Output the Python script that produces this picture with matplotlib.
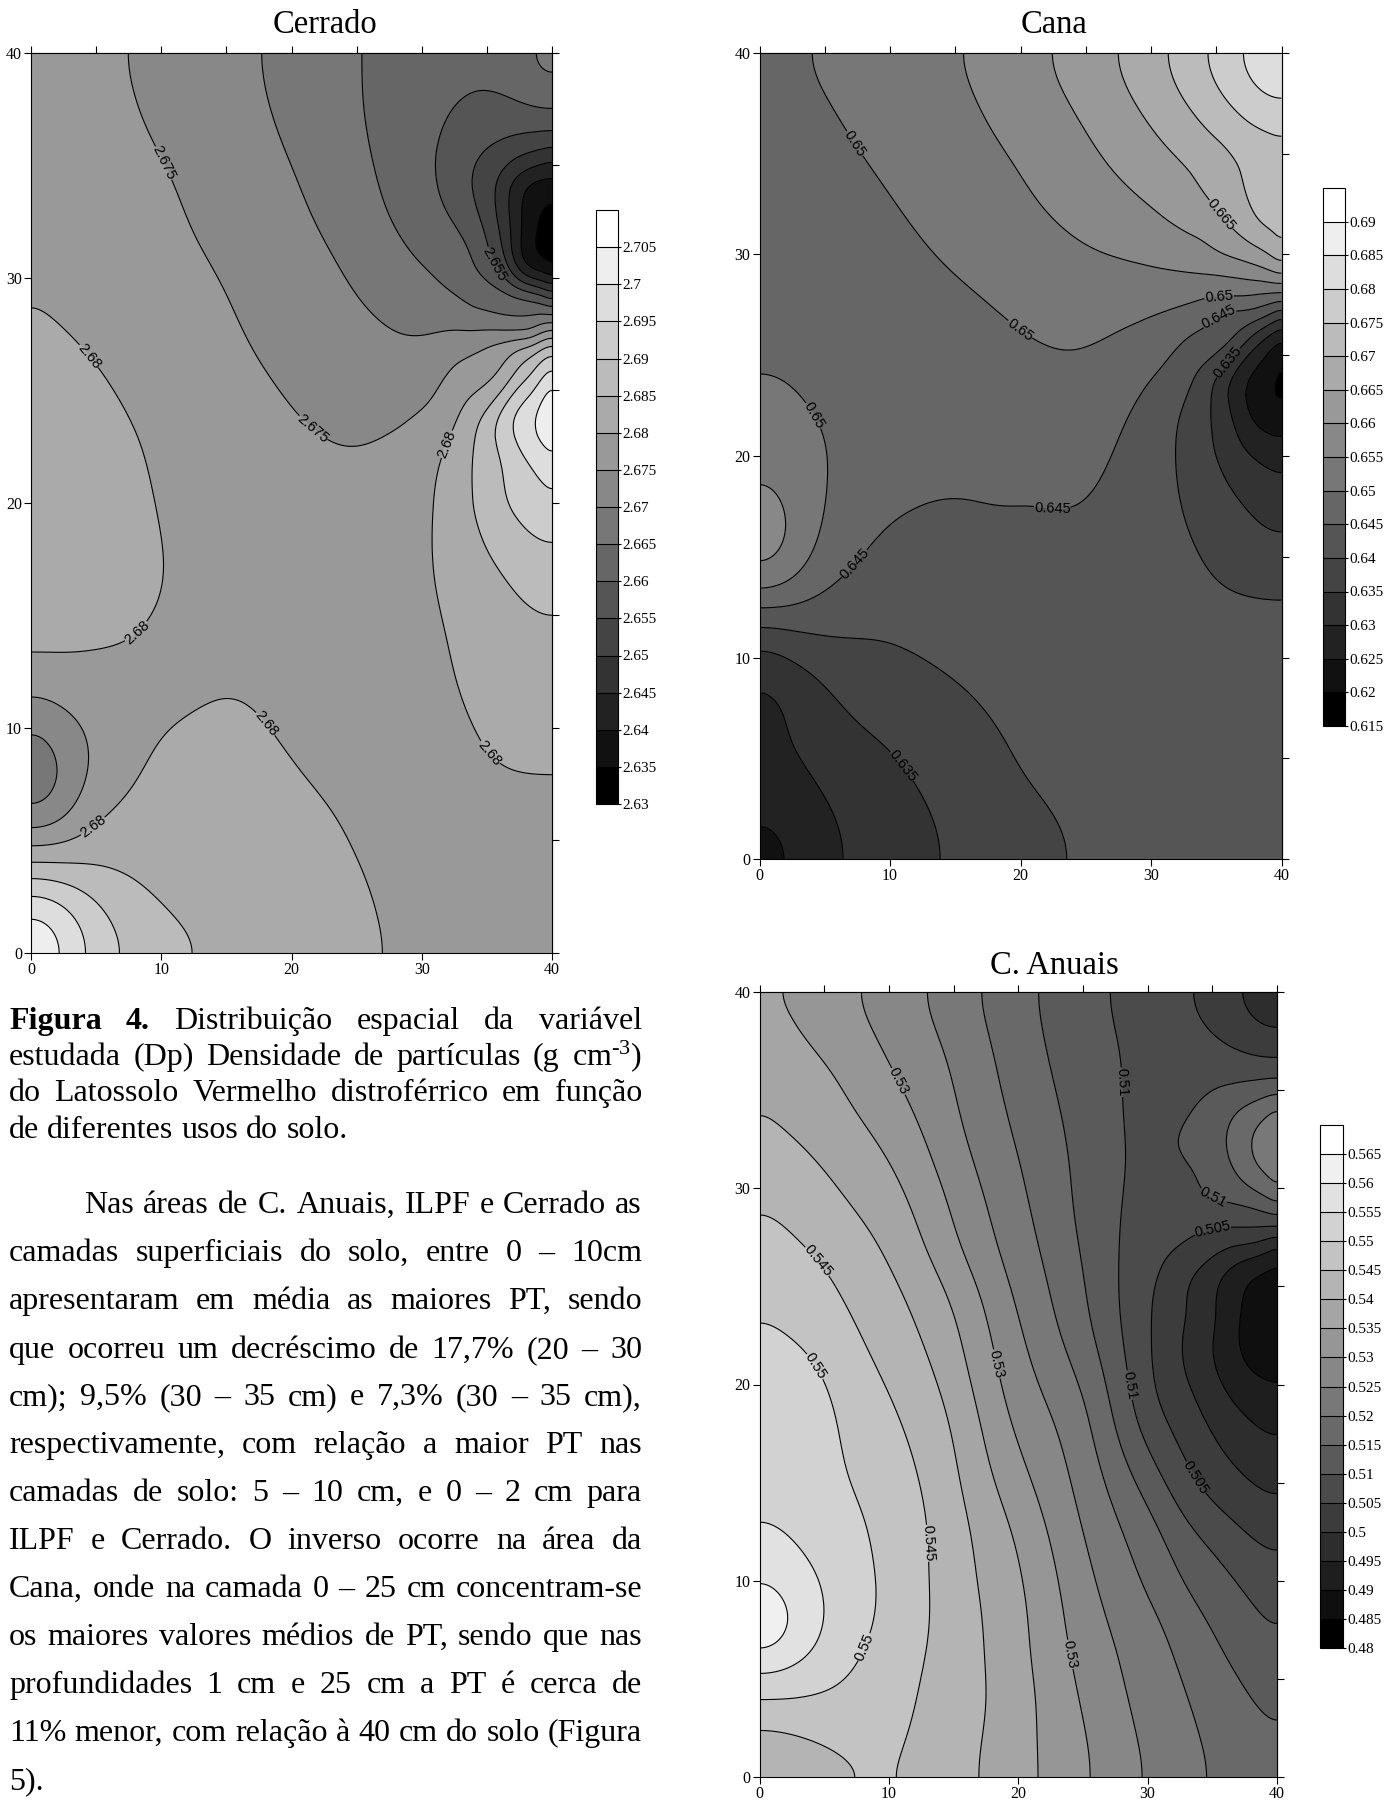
import numpy as np
import matplotlib
matplotlib.use('Agg')
import matplotlib.pyplot as plt
from matplotlib.tri import Triangulation, CubicTriInterpolator

W, H = 1398, 1807
plt.rcParams['font.family'] = 'Liberation Serif'
plt.rcParams['mathtext.default'] = 'regular'
plt.rcParams['mathtext.fontset'] = 'custom'
plt.rcParams['mathtext.rm'] = 'Liberation Serif'

# grid nodes shared by the three maps (cm)
grid_x = [0, 2.5, 5, 10, 15, 20, 25, 30, 33, 36, 38, 40]
grid_y = [0, 2, 4, 6, 8, 10, 12, 14, 17, 20, 22, 24, 26, 27, 28, 29, 30, 32, 34, 36, 38, 40]

# values, in 0.005 steps above the lowest level, one row per grid_y
cerrado_steps = [
    [15.8, 14.2, 12.75, 11.5, 10.85, 10.55, 10.2, 9.85, 9.65, 9.5, 9.4, 9.35],
    [14.2, 13.4, 12.3, 11.0, 10.7, 10.4, 10.2, 9.6, 9.4, 9.3, 9.3, 9.3],
    [11.0, 10.95, 10.85, 10.65, 10.5, 10.45, 10.03, 9.5, 9.4, 9.4, 9.4, 9.4],
    [8.0, 8.7, 9.95, 10.35, 10.65, 10.35, 9.85, 9.5, 9.6, 9.7, 9.72, 9.72],
    [6.4, 7.9, 9.15, 10.15, 10.4, 10.05, 9.65, 9.55, 9.75, 9.98, 10.02, 10.02],
    [7.8, 8.65, 9.2, 9.98, 10.15, 9.85, 9.6, 9.65, 9.9, 10.2, 10.25, 10.3],
    [9.4, 9.5, 9.55, 9.75, 9.95, 9.75, 9.65, 9.75, 10.05, 10.3, 10.42, 10.55],
    [10.4, 10.33, 10.2, 9.85, 9.78, 9.7, 9.65, 9.8, 10.12, 10.55, 10.7, 10.85],
    [10.6, 10.55, 10.45, 10.03, 9.75, 9.65, 9.6, 9.85, 10.4, 10.93, 11.4, 11.65],
    [10.65, 10.55, 10.4, 9.95, 9.65, 9.5, 9.4, 9.8, 10.65, 11.85, 12.4, 12.9],
    [10.6, 10.5, 10.3, 9.9, 9.55, 9.25, 9.03, 9.65, 10.6, 12.0, 13.05, 13.95],
    [10.45, 10.35, 10.2, 9.8, 9.4, 9.0, 8.79, 8.95, 10.05, 12.0, 13.5, 14.9],
    [10.35, 10.22, 10.03, 9.6, 9.2, 8.85, 8.55, 8.45, 9.2, 9.95, 11.4, 13.0],
    [10.25, 10.12, 9.92, 9.53, 9.13, 8.7, 8.45, 8.15, 8.6, 9.2, 9.85, 11.1],
    [10.1, 9.95, 9.8, 9.44, 9.07, 8.65, 8.25, 7.8, 7.7, 7.4, 7.3, 8.0],
    [10.0, 9.84, 9.67, 9.35, 9.02, 8.55, 8.0, 7.3, 7.0, 6.55, 6.15, 5.0],
    [9.96, 9.8, 9.65, 9.32, 8.98, 8.5, 7.9, 7.1, 6.6, 5.3, 3.2, 2.0],
    [9.87, 9.75, 9.6, 9.23, 8.79, 8.26, 7.55, 6.7, 6.0, 4.0, 1.6, 0.3],
    [9.8, 9.6, 9.4, 9.12, 8.62, 8.1, 7.35, 6.3, 5.33, 3.7, 2.0, 1.5],
    [9.72, 9.55, 9.35, 8.95, 8.5, 7.9, 7.15, 6.25, 5.5, 5.0, 4.7, 4.1],
    [9.65, 9.5, 9.3, 8.8, 8.35, 7.75, 7.05, 6.4, 6.0, 5.9, 6.3, 7.0],
    [9.6, 9.45, 9.2, 8.7, 8.25, 7.7, 7.05, 6.6, 6.5, 6.75, 7.3, 8.0],
]
cana_steps = [
    [1.2, 1.85, 2.7, 3.5, 4.15, 4.65, 5.1, 5.35, 5.4, 5.35, 5.3, 5.3],
    [2.0, 2.3, 2.8, 3.55, 4.2, 4.75, 5.15, 5.4, 5.45, 5.4, 5.35, 5.3],
    [2.45, 2.65, 3.2, 3.8, 4.45, 5.0, 5.3, 5.45, 5.5, 5.4, 5.35, 5.3],
    [2.75, 3.1, 3.5, 4.07, 4.6, 5.1, 5.35, 5.5, 5.5, 5.4, 5.35, 5.3],
    [2.6, 3.0, 3.8, 4.45, 4.9, 5.25, 5.45, 5.55, 5.5, 5.4, 5.35, 5.3],
    [3.3, 4.05, 4.5, 4.8, 5.15, 5.4, 5.55, 5.55, 5.5, 5.4, 5.3, 5.2],
    [5.3, 5.45, 5.45, 5.3, 5.45, 5.55, 5.55, 5.45, 5.35, 5.3, 5.35, 5.3],
    [8.3, 7.3, 6.25, 5.7, 5.55, 5.5, 5.5, 5.3, 5.2, 4.85, 4.65, 4.6],
    [8.6, 8.0, 6.95, 6.02, 5.9, 5.98, 5.95, 5.35, 4.95, 4.35, 4.0, 3.65],
    [7.75, 7.55, 7.08, 6.3, 6.18, 6.2, 6.25, 5.45, 4.65, 3.6, 2.9, 2.45],
    [7.45, 7.25, 6.92, 6.33, 6.36, 6.53, 6.55, 5.6, 4.7, 3.1, 1.7, 1.3],
    [7.05, 6.95, 6.55, 6.4, 6.55, 6.76, 6.8, 6.05, 5.18, 3.25, 1.8, 0.8],
    [6.65, 6.5, 6.4, 6.47, 6.7, 6.97, 7.12, 6.68, 6.0, 5.25, 3.85, 2.3],
    [6.55, 6.45, 6.4, 6.52, 6.8, 7.08, 7.3, 7.0, 6.62, 5.8, 5.5, 4.25],
    [6.5, 6.45, 6.43, 6.58, 6.9, 7.2, 7.5, 7.46, 7.27, 7.1, 7.0, 6.7],
    [6.5, 6.47, 6.47, 6.65, 7.0, 7.33, 7.7, 7.87, 7.97, 8.1, 8.4, 9.0],
    [6.5, 6.5, 6.5, 6.72, 7.1, 7.45, 7.9, 8.24, 8.47, 9.1, 9.6, 10.55],
    [6.5, 6.55, 6.6, 6.9, 7.35, 7.8, 8.33, 8.9, 9.5, 10.2, 11.05, 11.45],
    [6.55, 6.6, 6.72, 7.1, 7.55, 7.98, 8.68, 9.47, 9.97, 10.75, 11.25, 11.6],
    [6.6, 6.7, 6.87, 7.27, 7.7, 8.24, 8.97, 9.9, 10.6, 11.27, 11.7, 12.05],
    [6.65, 6.85, 7.0, 7.42, 7.85, 8.48, 9.3, 10.42, 11.27, 12.3, 13.1, 13.5],
    [6.7, 6.93, 7.14, 7.57, 8.0, 8.72, 9.62, 10.8, 11.75, 12.9, 13.5, 14.15],
]
anuais_steps = [
    [11.3, 12.1, 12.4, 13.0, 12.3, 11.45, 10.2, 9.0, 8.4, 7.85, 7.5, 7.1],
    [12.65, 12.8, 13.1, 13.15, 12.45, 11.35, 10.1, 8.8, 8.15, 7.7, 7.4, 7.0],
    [14.05, 14.0, 13.85, 13.3, 12.55, 11.45, 9.9, 8.65, 8.05, 7.5, 7.0, 6.55],
    [15.75, 15.3, 14.7, 13.5, 12.55, 11.3, 9.7, 8.5, 7.8, 7.0, 6.55, 6.15],
    [18.0, 16.2, 15.05, 13.8, 12.55, 11.3, 9.5, 8.3, 7.45, 6.65, 6.25, 5.7],
    [15.9, 15.35, 14.95, 13.8, 12.45, 11.15, 9.3, 7.85, 6.85, 6.2, 5.75, 5.2],
    [15.2, 15.05, 14.7, 13.75, 12.45, 10.95, 9.05, 7.55, 6.45, 5.65, 5.05, 4.7],
    [14.8, 14.65, 14.4, 13.65, 12.3, 10.55, 8.8, 7.0, 5.55, 4.7, 4.3, 3.95],
    [14.9, 14.7, 14.3, 13.3, 12.05, 9.95, 8.45, 5.85, 4.75, 3.85, 3.4, 2.9],
    [14.6, 14.45, 14.07, 12.95, 11.6, 9.45, 7.95, 5.15, 4.05, 2.85, 2.2, 1.95],
    [14.3, 14.1, 13.75, 12.6, 11.3, 9.2, 7.45, 5.1, 3.85, 2.5, 1.6, 1.3],
    [13.9, 13.65, 13.3, 12.35, 11.0, 8.9, 7.15, 5.1, 4.0, 2.65, 1.65, 1.25],
    [13.6, 13.35, 13.05, 12.05, 10.45, 8.6, 7.0, 5.3, 4.35, 3.2, 2.5, 1.95],
    [13.4, 13.15, 12.8, 11.85, 10.15, 8.45, 6.9, 5.45, 4.9, 4.1, 3.75, 3.0],
    [13.25, 12.95, 12.55, 11.7, 10.0, 8.4, 6.8, 5.6, 5.2, 5.02, 5.0, 4.9],
    [13.0, 12.7, 12.35, 11.5, 9.9, 8.25, 6.75, 5.7, 5.65, 5.8, 6.0, 6.65],
    [12.8, 12.6, 12.2, 11.3, 9.7, 8.15, 6.75, 5.75, 5.8, 6.4, 7.0, 7.9],
    [12.35, 12.15, 11.75, 10.9, 9.35, 7.95, 6.7, 5.85, 6.1, 6.95, 8.0, 8.8],
    [12.1, 11.7, 11.4, 10.45, 9.1, 7.75, 6.6, 5.75, 5.9, 6.65, 7.3, 8.05],
    [11.85, 11.45, 11.15, 10.05, 8.95, 7.55, 6.5, 5.8, 5.6, 5.6, 5.5, 5.5],
    [11.5, 11.1, 10.65, 9.75, 8.7, 7.4, 6.4, 5.7, 5.3, 4.75, 4.1, 3.7],
    [11.0, 10.75, 10.37, 9.47, 8.37, 7.25, 6.27, 5.53, 4.97, 4.0, 3.5, 3.0],
]

cerrado_levels = np.round(np.arange(2.63, 2.7101, 0.005), 3)
cana_levels = np.round(np.arange(0.615, 0.6951, 0.005), 3)
anuais_levels = np.round(np.arange(0.48, 0.5701, 0.005), 3)

cerrado_labels = {2.675: [(10.5, 35.2), (21.3, 23.1)],
                  2.68: [(4.6, 26.6), (7.9, 14.4), (4.8, 5.6), (17.6, 10), (32, 22.6), (35.2, 8.9)],
                  2.655: [(35.2, 30.5)]}
cana_labels = {0.65: [(7.3, 35.5), (20, 26.3), (35.2, 28), (4.4, 22.1)],
               0.645: [(7.4, 14.6), (22.4, 17.1), (35.1, 27)],
               0.635: [(10.7, 4.5), (35.6, 24.8)],
               0.665: [(35.2, 31.9)]}
anuais_labels = {0.53: [(10.6, 35.4), (18, 21), (23.6, 6.2)],
                 0.51: [(27.9, 35.4), (28, 19.9), (35.3, 29.9)],
                 0.505: [(35, 28), (33.3, 15.1)],
                 0.545: [(4.7, 26.4), (12.8, 11.9)],
                 0.55: [(4.5, 21), (8.2, 6.6)]}

caption = [
    ["*Figura", "*4.", "Distribuição", "espacial", "da", "variável"],
    ["estudada", "(Dp)", "Densidade", "de", "partículas", "(g", "cm$^{\u20103}$)"],
    ["do", "Latossolo", "Vermelho", "distroférrico", "em", "função"],
    ["de", "diferentes", "usos", "do", "solo."],
]
body = [
    ["Nas", "áreas", "de", "C.", "Anuais,", "ILPF", "e", "Cerrado", "as"],
    ["camadas", "superficiais", "do", "solo,", "entre", "0", "–", "10cm"],
    ["apresentaram", "em", "média", "as", "maiores", "PT,", "sendo"],
    ["que", "ocorreu", "um", "decréscimo", "de", "17,7%", "(20", "–", "30"],
    ["cm);", "9,5%", "(30", "–", "35", "cm)", "e", "7,3%", "(30", "–", "35", "cm),"],
    ["respectivamente,", "com", "relação", "a", "maior", "PT", "nas"],
    ["camadas", "de", "solo:", "5", "–", "10", "cm,", "e", "0", "–", "2", "cm", "para"],
    ["ILPF", "e", "Cerrado.", "O", "inverso", "ocorre", "na", "área", "da"],
    ["Cana,", "onde", "na", "camada", "0", "–", "25", "cm", "concentram-se"],
    ["os", "maiores", "valores", "médios", "de", "PT,", "sendo", "que", "nas"],
    ["profundidades", "1", "cm", "e", "25", "cm", "a", "PT", "é", "cerca", "de"],
    ["11%", "menor,", "com", "relação", "à", "40", "cm", "do", "solo", "(Figura"],
    ["5)."],
]


def rect(x0, y0, x1, y1):
    # pixel box of the page to figure fractions
    return [x0 / W, 1 - y1 / H, (x1 - x0) / W, (y1 - y0) / H]


def blur(field, step, sigma):
    # separable gaussian with mirrored edges
    half = int(4 * sigma / step) + 1
    kernel = np.exp(-0.5 * (np.arange(-half, half + 1) * step / sigma) ** 2)
    kernel /= kernel.sum()
    pad = np.pad(field, half, mode='reflect')
    pad = np.apply_along_axis(np.convolve, 0, pad, kernel, mode='same')
    pad = np.apply_along_axis(np.convolve, 1, pad, kernel, mode='same')
    return pad[half:-half, half:-half]


def smooth_surface(steps, levels):
    # spline smoothing like the original contouring program, kept tighter at the right edge
    X, Y = np.meshgrid(grid_x, grid_y)
    z = levels[0] + 0.005 * np.array(steps)
    tri = Triangulation(X.ravel(), Y.ravel())
    xf = np.linspace(0, 40, 321)
    XF, YF = np.meshgrid(xf, xf)
    zf = np.asarray(CubicTriInterpolator(tri, z.ravel(), kind='min_E')(XF, YF))
    wide, tight = blur(zf, 0.125, 1.3), blur(zf, 0.125, 0.35)
    w = np.clip((XF - 29) / 5, 0, 1) * np.clip((YF - 18) / 5, 0, 1) * np.clip((37 - YF) / 3, 0, 1)
    zf = w * tight + (1 - w) * wide
    return xf, np.clip(zf, levels[0] + 1e-4, levels[-1] - 1e-4)


def draw_map(fig, box, cbox, title, title_xy, steps, levels, labels):
    ax = fig.add_axes(rect(*box))
    xf, zf = smooth_surface(steps, levels)

    colors = plt.cm.gray(np.linspace(0, 1, len(levels) - 1))
    cf = ax.contourf(xf, xf, zf, levels=levels, colors=colors)
    plain = [v for v in levels if float(v) not in labels]
    ax.contour(xf, xf, zf, levels=plain, colors='black', linewidths=0.8)
    # each labelled level gets its own contour set, clabel breaks the line there
    for lev, pts in labels.items():
        cs = ax.contour(xf, xf, zf, levels=[lev], colors='black', linewidths=0.8)
        ax.clabel(cs, fmt='%g', fontsize=10.5, inline=True, inline_spacing=2, manual=pts)
        for t in cs.labelTexts:
            t.set_family('Liberation Sans')

    ax.set_xlim(0, 40)
    ax.set_ylim(0, 40)
    ax.set_xticks(range(0, 41, 10))
    ax.set_yticks(range(0, 41, 10))
    ax.tick_params(labelsize=11.5, length=5, width=0.8, pad=1.5)

    top = ax.secondary_xaxis('top')
    top.set_xticks(range(0, 41, 5))
    top.tick_params(labeltop=False, length=5, width=0.8)
    right = ax.secondary_yaxis('right')
    right.set_yticks(range(0, 41, 5))
    right.tick_params(labelright=False, length=5, width=0.8)

    cax = fig.add_axes(rect(*cbox))
    cb = fig.colorbar(cf, cax=cax, ticks=levels[:-1], drawedges=True)
    cb.ax.set_yticklabels(['%g' % v for v in levels[:-1]])
    cb.ax.tick_params(labelsize=11, length=2, width=0.8, pad=1)
    cb.dividers.set_linewidth(0.8)
    cb.outline.set_linewidth(0.8)

    fig.text(title_xy[0] / W, 1 - title_xy[1] / H, title, fontsize=23.5,
             ha='center', va='center')


def draw_line(fig, renderer, words, x0, x1, base, justify=True):
    # lay one justified text line out word by word
    items = []
    for w in words:
        bold = w.startswith('*')
        t = fig.text(0, 0, w.lstrip('*'), fontsize=23,
                     fontweight='bold' if bold else 'normal', va='baseline')
        items.append((t, t.get_window_extent(renderer).width))
    total = sum(i[1] for i in items)
    gap = (x1 - x0 - total) / (len(items) - 1) if justify and len(items) > 1 else 8
    x = x0
    for t, wid in items:
        t.set_position((x / W, 1 - base / H))
        x += wid + gap


fig = plt.figure(figsize=(W / 100, H / 100), dpi=100)

draw_map(fig, (31, 53, 552, 953), (596, 210, 618, 804), 'Cerrado', (325, 25),
         cerrado_steps, cerrado_levels, cerrado_labels)
draw_map(fig, (759.5, 53, 1281.5, 859), (1323, 188, 1345, 726), 'Cana', (1054, 25),
         cana_steps, cana_levels, cana_labels)
draw_map(fig, (759.5, 992, 1277, 1777), (1320, 1125, 1343, 1648), 'C. Anuais', (1054, 966),
         anuais_steps, anuais_levels, anuais_labels)

renderer = fig.canvas.get_renderer()
caption_base = [1029, 1065, 1101, 1138]
for i, words in enumerate(caption):
    draw_line(fig, renderer, words, 9, 642, caption_base[i], justify=i < 3)

body_base = [1213, 1261, 1309, 1358, 1405, 1453, 1501, 1549, 1597, 1645, 1693, 1741, 1789]
for i, words in enumerate(body):
    x0 = 84 if i == 0 else 9
    draw_line(fig, renderer, words, x0, 642, body_base[i], justify=i < 12)

fig.savefig('out.png', dpi=100)
